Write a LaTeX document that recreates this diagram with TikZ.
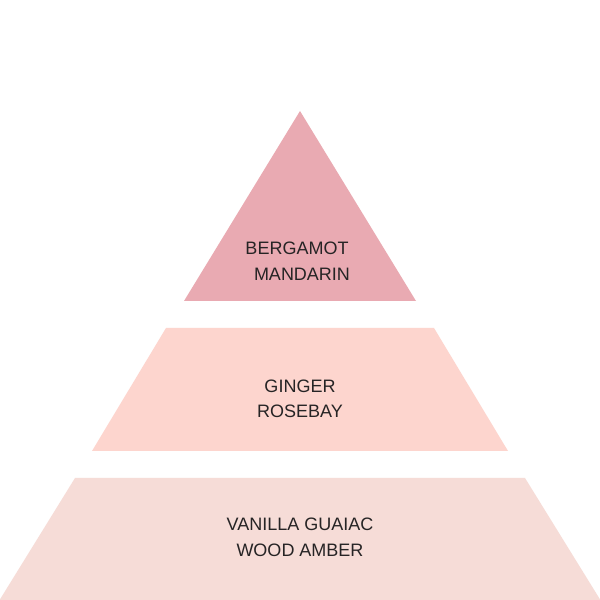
\documentclass[tikz,border=0pt]{standalone}
\usepackage{fontspec}
\setmainfont{Liberation Sans}
\definecolor{tiertop}{HTML}{E9AAB2}
\definecolor{tiermid}{HTML}{FDD5CE}
\definecolor{tierlow}{HTML}{F6DCD7}
\definecolor{inktext}{HTML}{262425}
\begin{document}
\begin{tikzpicture}[x=1pt,y=1pt,
  tiertext/.style={text=inktext,font=\fontsize{18}{26}\selectfont,align=center,inner sep=0pt}]
\useasboundingbox (0,0) rectangle (600,600);
\fill[white] (0,0) rectangle (600,600);
% top triangle
\fill[tiertop] (300,489) -- (416,299) -- (184,299) -- cycle;
% middle trapezoid
\fill[tiermid] (166,272) -- (434,272) -- (508,149) -- (92,149) -- cycle;
% bottom trapezoid
\fill[tierlow] (75,122) -- (525,122) -- (601,-1) -- (-1,-1) -- cycle;
\node[tiertext,anchor=base] (topa) at (297,345) {BERGAMOT};
\node[tiertext,anchor=base] (topb) at (302,319) {MANDARIN};
\node[tiertext,anchor=base] (mida) at (300,207) {GINGER};
\node[tiertext,anchor=base] (midb) at (300,182) {ROSEBAY};
\node[tiertext,anchor=base] (lowa) at (300,69) {VANILLA GUAIAC};
\node[tiertext,anchor=base] (lowb) at (300,43) {WOOD AMBER};
\end{tikzpicture}
\end{document}
